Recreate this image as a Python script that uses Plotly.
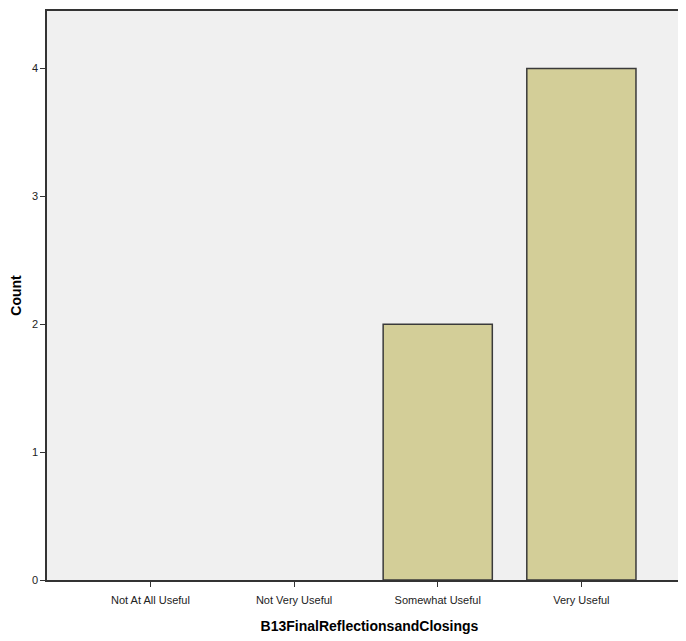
import plotly.graph_objects as go

categories = ["Not At All Useful", "Not Very Useful", "Somewhat Useful", "Very Useful"]
counts = [0, 0, 2, 4]
y_ticks = [0, 1, 2, 3, 4]

fig = go.Figure()
fig.add_trace(go.Bar(
    x=categories, y=counts, width=0.76,
    marker=dict(color="#D3CE98",
                line=dict(color="#3a3a3a", width=[1.5 if c > 0 else 0 for c in counts])),
))
fig.update_layout(
    width=686, height=633,
    margin=dict(l=39, r=0, t=3, b=61),
    paper_bgcolor="white", plot_bgcolor="#F0F0F0",
    font=dict(family="Arial", size=11, color="#222"),
    showlegend=False, bargap=0.24,
)
fig.update_xaxes(
    range=[-0.72, 3.77], showline=True, linecolor="#333", linewidth=1.5, mirror=True,
    ticks="outside", ticklen=5, tickcolor="#333", showgrid=False, ticklabelstandoff=4,
    title=dict(text="<b>B13FinalReflectionsandClosings</b>", font=dict(size=14, color="black"), standoff=16),
)
fig.update_yaxes(
    range=[0, 4.45], tickvals=y_ticks, showline=True, linecolor="#333", linewidth=1.5, mirror=True,
    ticks="outside", ticklen=5, tickcolor="#333", showgrid=False, zeroline=False,
    title=dict(text="<b>Count</b>", font=dict(size=14, color="black"), standoff=10),
)
fig.write_html("out.html")
